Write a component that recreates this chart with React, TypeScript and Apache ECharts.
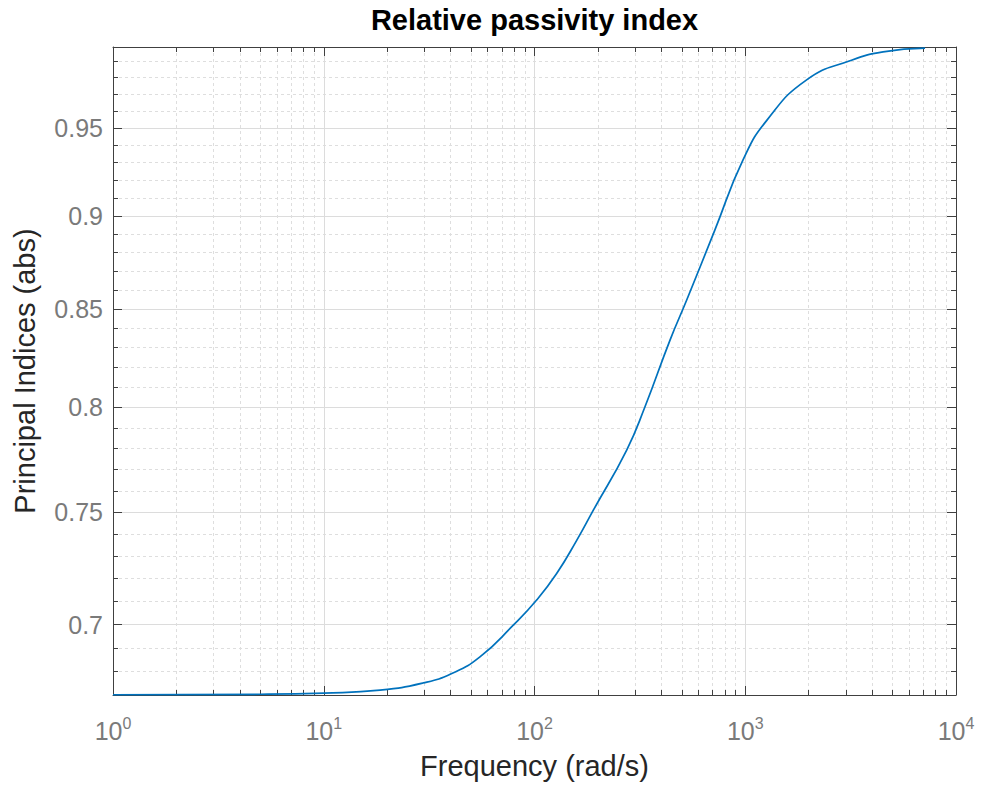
import React, { useEffect, useRef } from "react";
import * as echarts from "echarts";

const titleText = "Relative passivity index";
const xName = "Frequency (rad/s)";
const yName = "Principal Indices (abs)";

// frequency (rad/s)
const freq = [1, 5, 10, 18.5, 29.7, 40.5, 55.1, 79.3, 102.4, 127.4, 158.6, 190.2, 273.8, 334.4, 439.6, 527.5, 718, 976, 1268, 1963, 3141, 4508, 7130];
// principal index (abs)
const index = [0.6704, 0.6706, 0.6711, 0.6723, 0.6753, 0.6792, 0.6862, 0.6997, 0.7106, 0.7223, 0.7372, 0.751, 0.7793, 0.8003, 0.8338, 0.8546, 0.8923, 0.9315, 0.9546, 0.9787, 0.9901, 0.9955, 0.9978];

const xMajorTicks = [1, 10, 100, 1000, 10000];
const xMinorTicks = [2, 3, 4, 5, 6, 7, 8, 9, 20, 30, 40, 50, 60, 70, 80, 90, 200, 300, 400, 500, 600, 700, 800, 900, 2000, 3000, 4000, 5000, 6000, 7000, 8000, 9000];
const yMajorTicks = [0.7, 0.75, 0.8, 0.85, 0.9, 0.95];
const yMinorTicks = [0.68, 0.69, 0.71, 0.72, 0.73, 0.74, 0.76, 0.77, 0.78, 0.79, 0.81, 0.82, 0.83, 0.84, 0.86, 0.87, 0.88, 0.89, 0.91, 0.92, 0.93, 0.94, 0.96, 0.97, 0.98, 0.99];

const xMin = 1;
const xMax = 10000;
const yMin = 0.6703;
const yMax = 0.9985;

const FONT = "Liberation Sans, Arial, Helvetica, sans-serif";
const AXIS_COLOR = "#404040";
const MAJOR_GRID = "#dcdcdc";
const MINOR_GRID = "#dedede";

export default function App() {
  const ref = useRef<HTMLDivElement>(null);

  useEffect(() => {
    if (!ref.current) return;
    const chart = echarts.init(ref.current, undefined, { renderer: "svg" });

    const axisLine = { show: true, onZero: false, lineStyle: { color: AXIS_COLOR, width: 1 } };

    const xBase = (position: string) => ({
      type: "log",
      logBase: 10,
      min: xMin,
      max: xMax,
      position,
      gridIndex: 0,
    });
    const yBase = (position: string) => ({
      type: "log",
      logBase: 10,
      min: yMin,
      max: yMax,
      position,
      gridIndex: 0,
    });

    const option: any = {
      animation: false,
      textStyle: { fontFamily: FONT },
      grid: { left: 113, top: 47, width: 843, height: 648, containLabel: false },
      xAxis: [
        {
          ...xBase("bottom"),
          axisLine,
          axisTick: { show: true, inside: true, length: 9, customValues: xMajorTicks, lineStyle: { color: AXIS_COLOR } },
          axisLabel: {
            show: true,
            customValues: xMajorTicks,
            margin: 20,
            formatter: (v: number) => `{b|10}{s|${Math.round(Math.log10(v))}}`,
            rich: {
              b: { fontSize: 25, lineHeight: 32, color: "#7a7a7a", fontFamily: FONT },
              s: { fontSize: 16, lineHeight: 16, verticalAlign: "top", color: "#7a7a7a", fontFamily: FONT },
            },
          },
          splitLine: { show: true, lineStyle: { color: MAJOR_GRID, width: 1, type: "solid" } },
          name: xName,
          nameLocation: "middle",
          nameGap: 56,
          nameTextStyle: { fontSize: 29, color: "#262626", fontFamily: FONT },
        },
        {
          ...xBase("top"),
          axisLine,
          axisTick: { show: true, inside: true, length: 9, customValues: xMajorTicks, lineStyle: { color: AXIS_COLOR } },
          axisLabel: { show: false },
          splitLine: { show: false },
          name: titleText,
          nameLocation: "middle",
          nameGap: 13,
          nameTextStyle: { fontSize: 29, fontWeight: "bold", color: "#000000", fontFamily: FONT },
        },
        {
          ...xBase("bottom"),
          axisLine: { show: false },
          axisTick: { show: true, inside: true, length: 5, customValues: xMinorTicks, lineStyle: { color: AXIS_COLOR } },
          axisLabel: { show: false },
          splitLine: { show: true, lineStyle: { color: MINOR_GRID, width: 1, type: [3, 3] } },
        },
        {
          ...xBase("top"),
          axisLine: { show: false },
          axisTick: { show: true, inside: true, length: 5, customValues: xMinorTicks, lineStyle: { color: AXIS_COLOR } },
          axisLabel: { show: false },
          splitLine: { show: false },
        },
      ],
      yAxis: [
        {
          ...yBase("left"),
          axisLine,
          axisTick: { show: true, inside: true, length: 9, customValues: yMajorTicks, lineStyle: { color: AXIS_COLOR } },
          axisLabel: {
            show: true,
            customValues: yMajorTicks,
            margin: 10,
            fontSize: 25,
            color: "#7a7a7a",
            fontFamily: FONT,
            padding: [10, 0, 0, 0],
            formatter: (v: number) => String(+v.toFixed(2)),
          },
          splitLine: { show: true, lineStyle: { color: MAJOR_GRID, width: 1, type: "solid" } },
          name: yName,
          nameLocation: "middle",
          nameGap: 74,
          nameTextStyle: { fontSize: 29, color: "#262626", fontFamily: FONT },
        },
        {
          ...yBase("right"),
          axisLine,
          axisTick: { show: true, inside: true, length: 9, customValues: yMajorTicks, lineStyle: { color: AXIS_COLOR } },
          axisLabel: { show: false },
          splitLine: { show: false },
        },
        {
          ...yBase("left"),
          axisLine: { show: false },
          axisTick: { show: true, inside: true, length: 5, customValues: yMinorTicks, lineStyle: { color: AXIS_COLOR } },
          axisLabel: { show: false },
          splitLine: { show: true, lineStyle: { color: MINOR_GRID, width: 1, type: [3, 3] } },
        },
        {
          ...yBase("right"),
          axisLine: { show: false },
          axisTick: { show: true, inside: true, length: 5, customValues: yMinorTicks, lineStyle: { color: AXIS_COLOR } },
          axisLabel: { show: false },
          splitLine: { show: false },
        },
      ],
      series: [
        {
          type: "line",
          xAxisIndex: 0,
          yAxisIndex: 0,
          data: freq.map((f, i) => [f, index[i]]),
          showSymbol: false,
          smooth: 0.5,
          clip: false,
          lineStyle: { color: "#0072BD", width: 1.7 },
          z: 10,
        },
      ],
    };

    chart.setOption(option);
    return () => chart.dispose();
  }, []);

  return (
    <div
      ref={ref}
      style={{ position: "absolute", left: 0, top: 0, width: 982, height: 785, background: "#ffffff" }}
    />
  );
}
